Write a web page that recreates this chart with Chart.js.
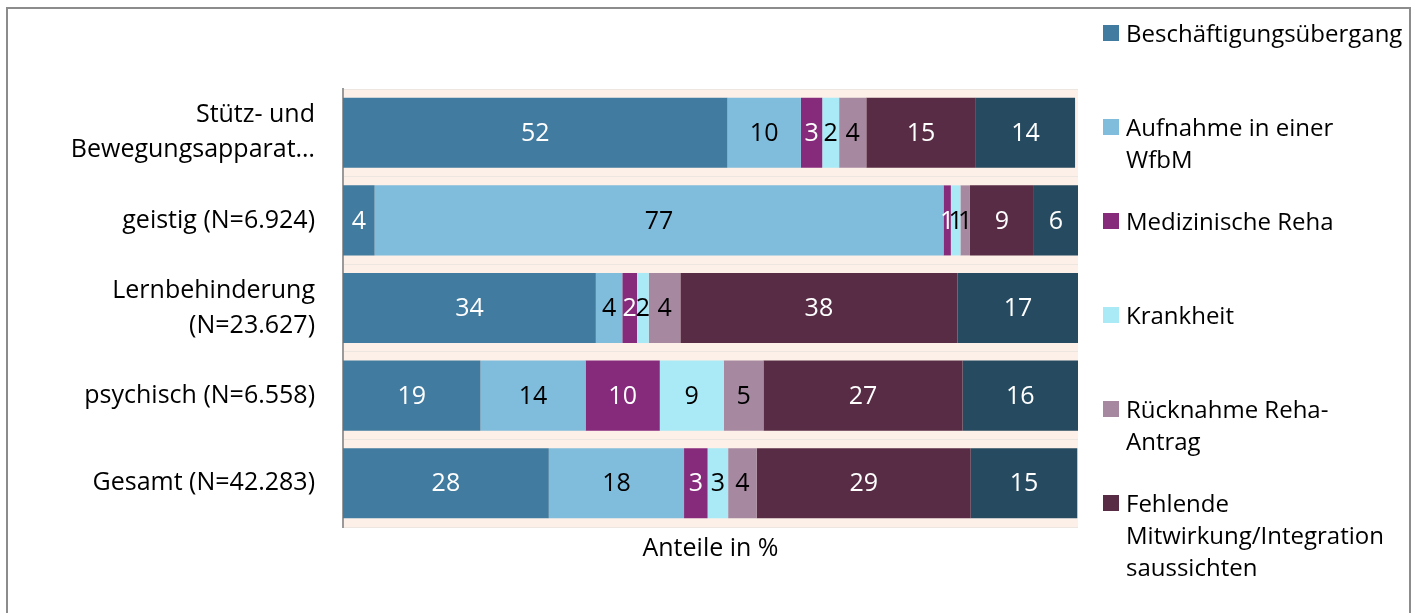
<!DOCTYPE html>
<html>
<head>
<meta charset="utf-8">
<script src="https://cdn.jsdelivr.net/npm/chart.js@4.4.1/dist/chart.umd.min.js"></script>
<style>
html,body{margin:0;padding:0;background:#fff;width:1421px;height:613px;overflow:hidden;}
#frame{position:absolute;left:6px;top:7px;width:1405px;height:640px;border:2px solid #8c8c8c;box-sizing:border-box;}
#c{position:absolute;left:0;top:0;}
#legend{position:absolute;left:0;top:0;font-family:"Open Sans",Lato,sans-serif;font-size:24px;color:#000;}
.item{position:absolute;left:1103px;line-height:32px;}
.sw{position:absolute;left:0;top:8px;width:16px;height:16px;}
.tx{position:absolute;left:23px;top:0;white-space:nowrap;}
</style>
</head>
<body>
<div id="frame"></div>
<canvas id="c" width="1421" height="613"></canvas>
<div id="legend"></div>
<script>
// ---- data ----
const categories = [
  ['Stütz- und', 'Bewegungsapparat…'],
  'geistig (N=6.924)',
  ['Lernbehinderung', '(N=23.627)'],
  'psychisch (N=6.558)',
  'Gesamt (N=42.283)'
];
const seriesNames = [
  ['Beschäftigungsübergang'],
  ['Aufnahme in einer', 'WfbM'],
  ['Medizinische Reha'],
  ['Krankheit'],
  ['Rücknahme Reha-', 'Antrag'],
  ['Fehlende', 'Mitwirkung/Integration', 'saussichten'],
  ['Sonstiges']
];
const showInLegend = [true, true, true, true, true, true, false];
const beschaeftigung = [52.3, 4.3, 34.4, 18.7, 28.0];
const wfbm           = [10.0, 77.4, 3.6, 14.3, 18.4];
const medReha        = [2.9, 1.0, 2.0, 10.1, 3.2];
const krankheit      = [2.3, 1.3, 1.6, 8.7, 2.8];
const ruecknahme     = [3.7, 1.3, 4.3, 5.4, 3.9];
const fehlende       = [14.9, 8.7, 37.7, 27.1, 29.1];
const sonstiges      = [13.5, 6.0, 16.5, 15.7, 14.5];
const seriesValues = [beschaeftigung, wfbm, medReha, krankheit, ruecknahme, fehlende, sonstiges];
const seriesColors = ['#417B9F', '#80BCDB', '#862A7C', '#A9EAF6', '#A688A0', '#582C45', '#264B61'];
const labelColors  = ['#ffffff', '#000000', '#ffffff', '#000000', '#000000', '#ffffff', '#ffffff'];
const axisTitle = 'Anteile in %';

const FONT = '"Open Sans", Lato, sans-serif';
const FS = 25;
Chart.defaults.font.family = FONT;
Chart.defaults.font.size = FS;
Chart.defaults.color = '#000';

const bgPlugin = {
  id: 'plotBg',
  beforeDraw(chart) {
    const {ctx, chartArea: a} = chart;
    ctx.save();
    ctx.fillStyle = '#FDF0E8';
    ctx.fillRect(a.left, a.top, a.right - a.left, a.bottom - a.top);
    ctx.restore();
  }
};

const valueLabels = {
  id: 'valueLabels',
  afterDatasetsDraw(chart) {
    const ctx = chart.ctx;
    ctx.save();
    ctx.font = FS + 'px ' + FONT;
    ctx.textAlign = 'center';
    ctx.textBaseline = 'middle';
    chart.data.datasets.forEach((ds, i) => {
      const meta = chart.getDatasetMeta(i);
      meta.data.forEach((bar, j) => {
        const v = ds.data[j];
        const p = bar.getProps(['x', 'y', 'base'], true);
        ctx.fillStyle = labelColors[i];
        ctx.fillText(String(Math.round(v)), (p.x + p.base) / 2, p.y + 1);
      });
    });
    ctx.restore();
  }
};

const chart = new Chart(document.getElementById('c'), {
  type: 'bar',
  data: {
    labels: categories,
    datasets: seriesValues.map((vals, i) => ({
      label: seriesNames[i].join(' '),
      data: vals,
      backgroundColor: seriesColors[i],
      borderWidth: 0,
      barPercentage: 0.8,
      categoryPercentage: 1.0
    }))
  },
  options: {
    indexAxis: 'y',
    responsive: false,
    animation: false,
    devicePixelRatio: 1,
    layout: {padding: {left: 0, right: 343, top: 89, bottom: 46}},
    plugins: {legend: {display: false}, tooltip: {enabled: false}},
    scales: {
      x: {
        stacked: true, min: 0, max: 100,
        grid: {display: false},
        border: {display: false},
        ticks: {display: false},
        title: {display: true, text: axisTitle, color: '#000', font: {size: FS, family: FONT}, padding: {top: 0, bottom: 3}},
        afterFit(scale) { scale.height = 40; }
      },
      y: {
        stacked: true,
        grid: {display: true, drawTicks: false, color: '#EDE5E0', lineWidth: 1, offset: true},
        border: {display: true, color: '#9a9a9a', width: 2},
        ticks: {padding: 28, color: '#000', font: {size: FS, family: FONT, lineHeight: 1.4}},
        afterFit(scale) { scale.width = 343; }
      }
    }
  },
  plugins: [bgPlugin, valueLabels]
});

// HTML legend
const leg = document.getElementById('legend');
let row = 0;
seriesNames.forEach((lines, i) => {
  if (!showInLegend[i]) return;
  const item = document.createElement('div');
  item.className = 'item';
  item.style.top = (17 + row * 94) + 'px';
  const sw = document.createElement('div');
  sw.className = 'sw';
  sw.style.background = seriesColors[i];
  const tx = document.createElement('div');
  tx.className = 'tx';
  tx.innerHTML = lines.join('<br>');
  item.appendChild(sw);
  item.appendChild(tx);
  leg.appendChild(item);
  row++;
});
</script>
</body>
</html>
